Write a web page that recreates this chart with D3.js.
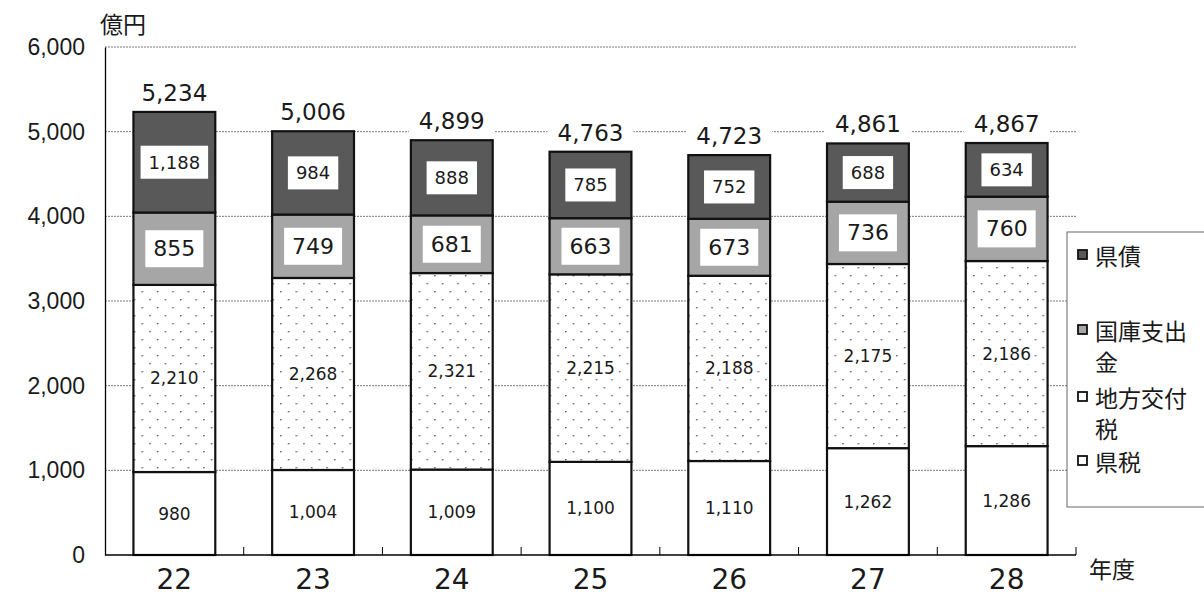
<!DOCTYPE html>
<html>
<head>
<meta charset="utf-8">
<script src="https://cdn.jsdelivr.net/npm/d3@7"></script>
<style>
  body { margin: 0; background: #fff; }
  svg { display: block; font-family: "DejaVu Sans", "Noto Sans CJK JP", sans-serif; }
  .jp { font-family: "Noto Sans CJK JP", sans-serif; }
</style>
</head>
<body>
<svg id="chart" width="1204" height="598"></svg>
<script>
// 年度
const years = ["22", "23", "24", "25", "26", "27", "28"]
const kenzei = [980, 1004, 1009, 1100, 1110, 1262, 1286]
const koufuzei = [2210, 2268, 2321, 2215, 2188, 2175, 2186]
const kokko = [855, 749, 681, 663, 673, 736, 760]
const kensai = [1188, 984, 888, 785, 752, 688, 634]
const totals = [5234, 5006, 4899, 4763, 4723, 4861, 4867]
const yTicks = [0, 1000, 2000, 3000, 4000, 5000, 6000]

const seriesNames = ["県税", "地方交付税", "国庫支出金", "県債"]
const seriesValues = [kenzei, koufuzei, kokko, kensai]

const svg = d3.select("#chart")
const plotLeft = 105, plotRight = 1076, plotTop = 47, plotBottom = 555

const x = d3.scaleBand().domain(years).range([plotLeft, plotRight]).padding(0)
const barW = x.bandwidth() * 0.59
const y = d3.scaleLinear().domain([0, 6000]).range([plotBottom, plotTop])
const fmt = d3.format(",")

// dot pattern for 地方交付税
const defs = svg.append("defs")
const pat = defs.append("pattern").attr("id", "dots")
    .attr("patternUnits", "userSpaceOnUse")
    .attr("width", 15.4).attr("height", 16)
    .attr("x", 0).attr("y", 0)
pat.append("rect").attr("width", 15.4).attr("height", 16).attr("fill", "#fff")
pat.append("rect").attr("x", 3).attr("y", 3).attr("width", 1.4).attr("height", 1.4).attr("fill", "#555")
pat.append("rect").attr("x", 10.7).attr("y", 11).attr("width", 1.4).attr("height", 1.4).attr("fill", "#555")

const fills = ["#ffffff", "url(#dots)", "#a6a6a6", "#595959"]
const legendFills = ["#ffffff", "#ffffff", "#a6a6a6", "#595959"]

// gridlines
svg.append("g").selectAll("line")
    .data(yTicks.filter(d => d > 0))
    .join("line")
    .attr("x1", plotLeft).attr("x2", plotRight)
    .attr("y1", d => y(d)).attr("y2", d => y(d))
    .attr("stroke", "#7a7a7a").attr("stroke-width", 1)
    .attr("stroke-dasharray", "2,1")

// stacked data
const rows = years.map((yr, i) => {
    const r = { year: yr }
    seriesNames.forEach((s, j) => r[s] = seriesValues[j][i])
    return r
})
const stacked = d3.stack().keys(seriesNames)(rows)

const barX = yr => x(yr) + (x.bandwidth() - barW) / 2

const layers = svg.append("g").selectAll("g")
    .data(stacked)
    .join("g")
    .attr("fill", (d, i) => fills[i])

layers.selectAll("rect")
    .data(d => d)
    .join("rect")
    .attr("x", d => barX(d.data.year))
    .attr("width", barW)
    .attr("y", d => y(d[1]))
    .attr("height", d => y(d[0]) - y(d[1]))
    .attr("stroke", "#111")
    .attr("stroke-width", 2.2)

// segment labels
const labelSizes = [17, 17, 22, 18]
const padX = [0, 2, 8, 8]
const padY = [0, 1, 6, 6]
stacked.forEach((layer, li) => {
    const g = svg.append("g")
    layer.forEach((d, i) => {
        const cx = barX(d.data.year) + barW / 2
        const cy = (y(d[0]) + y(d[1])) / 2
        const lg = g.append("g")
        const t = lg.append("text")
            .attr("x", cx).attr("y", cy)
            .attr("text-anchor", "middle")
            .attr("dominant-baseline", "central")
            .attr("font-size", labelSizes[li])
            .attr("fill", "#1a1a1a")
            .text(fmt(seriesValues[li][i]))
        if (li > 0) {
            const bb = t.node().getBBox()
            lg.insert("rect", "text")
                .attr("x", bb.x - padX[li]).attr("y", bb.y - padY[li])
                .attr("width", bb.width + padX[li] * 2)
                .attr("height", bb.height + padY[li] * 2)
                .attr("fill", "#fff")
        }
    })
})

// totals
const totG = svg.append("g")
years.forEach((yr, i) => {
    const cx = x(yr) + x.bandwidth() / 2
    const g = totG.append("g")
    const t = g.append("text")
        .attr("x", cx).attr("y", y(totals[i]) - 11)
        .attr("text-anchor", "middle")
        .attr("font-size", 23)
        .attr("fill", "#1a1a1a")
        .text(fmt(totals[i]))
    const bb = t.node().getBBox()
    g.insert("rect", "text")
        .attr("x", bb.x - 10).attr("y", bb.y)
        .attr("width", bb.width + 20).attr("height", bb.height)
        .attr("fill", "#fff")
})

// y axis
const yAxis = d3.axisLeft(y).tickValues(yTicks).tickSize(0).tickPadding(20).tickFormat(fmt)
svg.append("g").attr("transform", `translate(${plotLeft},0)`).call(yAxis)
    .call(g => g.select(".domain").attr("stroke", "#000").attr("stroke-width", 1.3))
    .call(g => g.selectAll("text").attr("font-size", 23).attr("fill", "#1a1a1a")
        .attr("font-family", "inherit"))

// x axis
svg.append("line")
    .attr("x1", plotLeft).attr("x2", plotRight)
    .attr("y1", plotBottom).attr("y2", plotBottom)
    .attr("stroke", "#000").attr("stroke-width", 1.3)
svg.append("g").selectAll("line")
    .data(years.slice(1).map(d => x(d)).concat([plotRight]))
    .join("line")
    .attr("x1", d => d).attr("x2", d => d)
    .attr("y1", plotBottom).attr("y2", plotBottom - 8)
    .attr("stroke", "#000").attr("stroke-width", 1)
svg.append("g").selectAll("text")
    .data(years)
    .join("text")
    .attr("x", d => x(d) + x.bandwidth() / 2)
    .attr("y", 589)
    .attr("text-anchor", "middle")
    .attr("font-size", 28)
    .attr("fill", "#1a1a1a")
    .text(d => d)

// axis titles
svg.append("text").attr("class", "jp").attr("x", 100).attr("y", 33)
    .attr("font-size", 23).attr("fill", "#1a1a1a").text("億円")
svg.append("text").attr("class", "jp").attr("x", 1089).attr("y", 578)
    .attr("font-size", 23).attr("fill", "#1a1a1a").text("年度")

// legend
const lg = svg.append("g")
lg.append("rect").attr("x", 1067).attr("y", 232).attr("width", 160).attr("height", 275)
    .attr("fill", "#fff").attr("stroke", "#666").attr("stroke-width", 1)
const legendItems = [
    { i: 3, lines: ["県債"], y: 255 },
    { i: 2, lines: ["国庫支出", "金"], y: 330 },
    { i: 1, lines: ["地方交付", "税"], y: 397 },
    { i: 0, lines: ["県税"], y: 461 }
]
legendItems.forEach(it => {
    lg.append("rect").attr("x", 1078).attr("y", it.y - 5).attr("width", 9).attr("height", 9)
        .attr("fill", legendFills[it.i]).attr("stroke", "#111").attr("stroke-width", 1.8)
    it.lines.forEach((ln, k) => {
        lg.append("text").attr("class", "jp").attr("x", 1095).attr("y", it.y + k * 31)
            .attr("dominant-baseline", "central")
            .attr("font-size", 23).attr("fill", "#1a1a1a").text(ln)
    })
})
</script>
</body>
</html>
